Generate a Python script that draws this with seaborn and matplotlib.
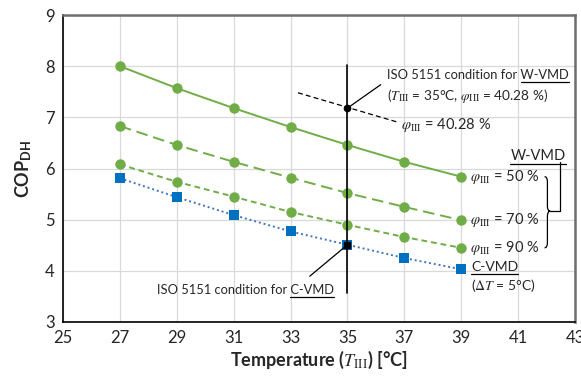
import matplotlib
matplotlib.use("Agg")
import matplotlib.pyplot as plt
from matplotlib.path import Path
from matplotlib.patches import PathPatch
from matplotlib.lines import Line2D
import seaborn as sns

temps = [27, 29, 31, 33, 35, 37, 39]
cop_w50 = [8.00, 7.57, 7.18, 6.81, 6.46, 6.13, 5.84]
cop_w70 = [6.83, 6.46, 6.13, 5.82, 5.52, 5.25, 4.99]
cop_w90 = [6.08, 5.74, 5.45, 5.15, 4.90, 4.66, 4.45]
cop_c = [5.81, 5.44, 5.09, 4.77, 4.51, 4.25, 4.03]

# ISO 5151 rating points
iso_temp = 35
iso_w_cop = 7.18
iso_c_cop = 4.51
iso_line_y = [3.57, 8.02]
# guide for phi = 40.28 %
phi_guide_x = [33.26, 36.74]
phi_guide_y = [7.48, 6.91]

GREEN = "#70AD47"
BLUE = "#0070C0"

sns.set_style("whitegrid")
plt.rcParams["font.family"] = ["Lato", "DejaVu Sans"]
plt.rcParams["mathtext.fontset"] = "custom"
plt.rcParams["mathtext.rm"] = "STIXGeneral"
plt.rcParams["mathtext.it"] = "STIXGeneral:italic"
plt.rcParams["mathtext.bf"] = "Lato:bold"
plt.rcParams["mathtext.sf"] = "Lato"
plt.rcParams["mathtext.fallback"] = "stix"

fig = plt.figure(figsize=(5.81, 3.76), dpi=100)
ax = fig.add_axes([63 / 581, 1 - 322 / 376, 512 / 581, 307 / 376])

series = [
    (cop_w50, GREEN, "-", "o", 7.5, None),
    (cop_w70, GREEN, (0, (6, 3)), "o", 7.5, None),
    (cop_w90, GREEN, (0, (3, 2)), "o", 7.5, None),
    (cop_c, "#4472C4", (0, (1, 1.5)), "s", 7, BLUE),
]
for vals, col, ls, mk, ms, mcol in series:
    sns.lineplot(x=temps, y=vals, ax=ax, color=col, linestyle=ls, linewidth=1.4,
                 marker=mk, markersize=ms, markeredgewidth=0,
                 markerfacecolor=mcol if mcol else col, zorder=3)

# ISO condition vertical line and markers
ax.plot([iso_temp, iso_temp], iso_line_y, color="black", lw=1.2, zorder=4)
ax.plot(phi_guide_x, phi_guide_y, color="black", lw=0.9, ls=(0, (4, 2.5)), zorder=4)
ax.plot([iso_temp], [iso_w_cop], "o", color="black", ms=4.5, zorder=5)
ax.plot([iso_temp], [iso_c_cop], "s", color="black", ms=4, zorder=5)

ax.set_xlim(25, 43)
ax.set_ylim(3, 9)
ax.set_xticks(range(25, 44, 2))
ax.set_yticks(range(3, 10))
ax.grid(True, color="#D9D9D9", lw=0.9)
ax.tick_params(labelsize=12, length=0, pad=6)
for s in ["left", "bottom"]:
    ax.spines[s].set_color("black")
    ax.spines[s].set_linewidth(1.2)
for s in ["top", "right"]:
    ax.spines[s].set_color("#6E6E6E")
    ax.spines[s].set_linewidth(1.8)

ax.set_xlabel(r"Temperature ($T_{\mathrm{III}}$) [°C]", fontsize=13, fontweight="bold", labelpad=2)
ax.set_ylabel(r"COP$_{\mathbf{DH}}$", fontsize=13, fontweight="bold", labelpad=8)

fs = 9.3
# annotations
ax.annotate("", xy=(iso_temp, iso_w_cop), xytext=(36.25, 7.67),
            arrowprops=dict(arrowstyle="-", color="black", lw=0.9))
t_w = ax.text(36.4, 7.83, "ISO 5151 condition for W-VMD", fontsize=fs, va="center", ha="left")
ax.text(36.4, 7.42, r"($T_{\mathrm{III}}$ = 35°C, $\varphi_{\mathrm{III}}$ = 40.28 %)",
        fontsize=fs + 0.5, va="center", ha="left")
ax.text(36.9, 6.85, r"$\varphi_{\mathrm{III}}$ = 40.28 %", fontsize=10.5, va="center", ha="left")

ax.annotate("", xy=(iso_temp, iso_c_cop), xytext=(33.6, 3.86),
            arrowprops=dict(arrowstyle="-", color="black", lw=0.9))
t_c = ax.text(31.4, 3.62, "ISO 5151 condition for C-VMD", fontsize=fs, va="center", ha="center")

for vals, lab in [(cop_w50, "50"), (cop_w70, "70"), (cop_w90, "90")]:
    ax.text(39.3, vals[-1], r"$\varphi_{\mathrm{III}}$ = " + lab + " %", fontsize=10.5,
            va="center", ha="left")

t_wv = ax.text(41.7, 6.25, "W-VMD", fontsize=10.5, va="center", ha="center")
t_cv = ax.text(39.35, 4.07, "C-VMD", fontsize=10, va="center", ha="left")
ax.text(39.35, 3.72, r"($\Delta T$ = 5°C)", fontsize=10, va="center", ha="left")

# curly brace joining the W-VMD curves
x0, w = 41.93, 0.2
y1, y0 = cop_w50[-1], cop_w90[-1]
ym = (y1 + y0) / 2 + 0.02
r = 0.1
verts = [(x0, y1), (x0 + w / 2, y1), (x0 + w / 2, y1 - r),
         (x0 + w / 2, ym + r), (x0 + w / 2, ym), (x0 + w, ym),
         (x0 + w / 2, ym), (x0 + w / 2, ym - r),
         (x0 + w / 2, y0 + r), (x0 + w / 2, y0), (x0, y0)]
codes = [Path.MOVETO, Path.CURVE3, Path.CURVE3, Path.LINETO, Path.CURVE3, Path.CURVE3,
         Path.CURVE3, Path.CURVE3, Path.LINETO, Path.CURVE3, Path.CURVE3]
ax.add_patch(PathPatch(Path(verts, codes), fill=False, color="black", lw=0.9))
ax.plot([x0 + w, 42.48, 42.48], [ym, ym, 6.13], color="black", lw=0.9, clip_on=False)

fig.canvas.draw()
renderer = fig.canvas.get_renderer()


def underline_tail(txt, tail):
    bb = txt.get_window_extent(renderer)
    tmp = ax.text(0, 0, tail, fontsize=txt.get_fontsize())
    tw = tmp.get_window_extent(renderer).width
    tmp.remove()
    inv = fig.transFigure.inverted()
    (xa, ya) = inv.transform((bb.x1 - tw, bb.y0 - 1))
    (xb, _) = inv.transform((bb.x1, bb.y0 - 1))
    fig.add_artist(Line2D([xa, xb], [ya, ya], color="black", lw=0.9))


underline_tail(t_w, "W-VMD")
underline_tail(t_c, "C-VMD")
underline_tail(t_wv, "W-VMD")
underline_tail(t_cv, "C-VMD")

fig.savefig("out.png", dpi=100)
